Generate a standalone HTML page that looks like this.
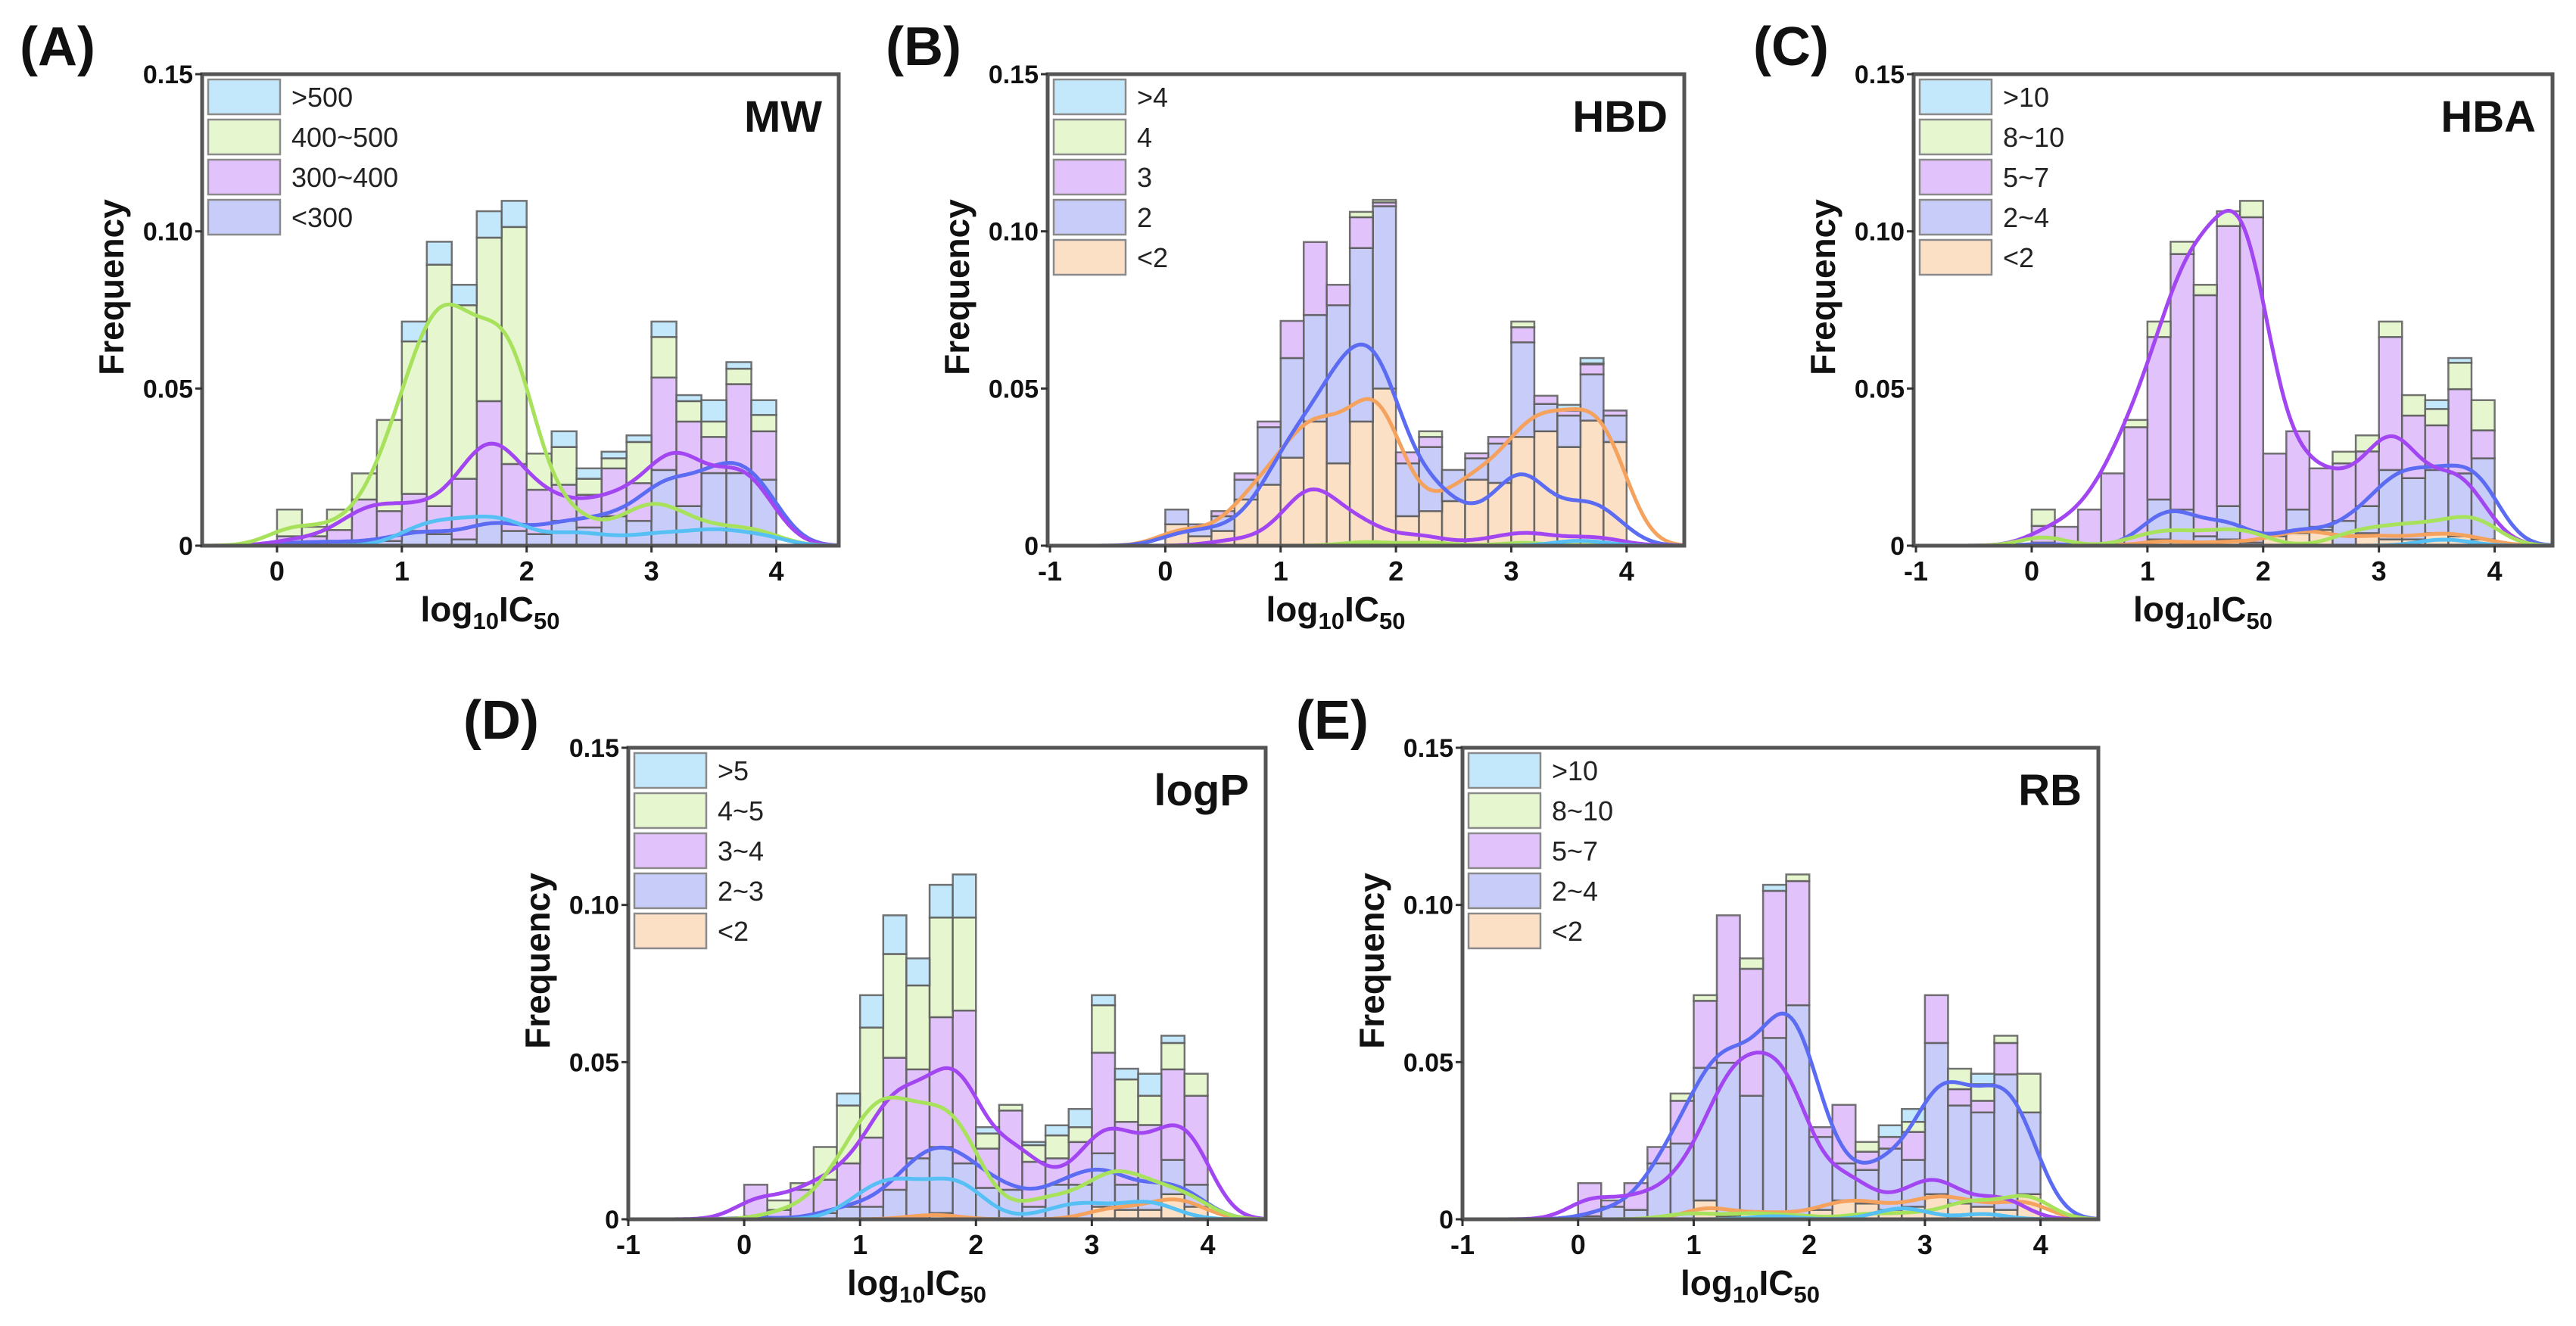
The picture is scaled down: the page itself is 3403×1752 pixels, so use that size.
<!DOCTYPE html>
<html><head><meta charset="utf-8"><style>
html,body{margin:0;padding:0;background:#fff}
svg{display:block;font-family:"Liberation Sans",Arial,sans-serif}
</style></head><body>
<svg id="fig" width="3403" height="1752" viewBox="0 0 3403 1752" xmlns="http://www.w3.org/2000/svg"></svg>
<script>
// Shared bins (log10 IC50), bin width 0.2
const binStarts = [0,0.2,0.4,0.6,0.8,1.0,1.2,1.4,1.6,1.8,2.0,2.2,2.4,2.6,2.8,3.0,3.2,3.4,3.6,3.8];
const yTicks = [0,0.05,0.10,0.15];
const yTickLabels = ["0","0.05","0.10","0.15"];
const xTicksA = [0,1,2,3,4];
const xTicksOther = [-1,0,1,2,3,4];

// Cumulative stack tops (bottom layer first)
// Panel A: MW  (<300, 300~400, 400~500, >500)
const mwLabels = ["<300","300~400","400~500",">500"];
const mwStack = [
 [.001,.001,.001,.001,.0015,.0047,.0037,.002,.009,.0047,.0037,.0079,.0058,.0094,.0079,.0241,.0126,.0231,.0231,.021],
 [.003,.003,.005,.0147,.011,.0165,.0126,.0213,.046,.026,.0178,.0194,.0162,.0246,.0199,.0535,.0395,.0346,.0514,.0364],
 [.0115,.006,.0115,.023,.040,.065,.0894,.0765,.098,.1014,.0293,.0314,.0213,.0278,.033,.0664,.046,.0395,.0563,.0416],
 [.0115,.006,.0115,.023,.040,.0713,.0967,.083,.1064,.1097,.0293,.0364,.0246,.0299,.0351,.0713,.0479,.0463,.0584,.0463]
];
// Panel B: HBD (<2, 2, 3, 4, >4)
const hbdLabels = ["<2","2","3","4",">4"];
const hbdStack = [
 [.0068,.003,.0047,.0147,.0194,.028,.0395,.0262,.0395,.05,.0094,.011,.0142,.021,.02,.0346,.0364,.0314,.0398,.033],
 [.0115,.0068,.0094,.021,.0377,.0597,.0734,.0765,.0947,.108,.0262,.0314,.0241,.0278,.0325,.0647,.0451,.0414,.0545,.0414],
 [.0115,.0068,.011,.023,.0395,.0715,.0966,.083,.1045,.1092,.0297,.0346,.0241,.0294,.0346,.0695,.0477,.043,.0577,.043],
 [.0115,.0068,.011,.023,.0395,.0715,.0966,.083,.1062,.110,.0297,.0364,.0241,.0294,.0346,.0713,.0477,.043,.058,.043],
 [.0115,.0068,.011,.023,.0395,.0715,.0966,.083,.1062,.110,.0297,.0364,.0241,.0294,.0346,.0713,.0477,.0448,.0597,.043]
];
// Panel C: HBA (<2, 2~4, 5~7, 8~10, >10)
const hbaLabels = ["<2","2~4","5~7","8~10",">10"];
const hbaStack = [
 [0,0,0,0,0,.002,.001,0,.002,0,.003,.004,.005,0,.004,.002,.002,.004,.003,.002],
 [.001,0,0,0,0,.0147,.0115,.003,.0126,.001,.004,.0115,.006,.0079,.0126,.0241,.0215,.0241,.023,.0278],
 [.0063,.006,.0115,.023,.0377,.0664,.0928,.0797,.1017,.1045,.0293,.0364,.0246,.0262,.030,.0664,.0414,.0383,.0498,.0367],
 [.0115,.006,.0115,.023,.040,.0713,.0967,.083,.1064,.1097,.0293,.0364,.0246,.0299,.0351,.0713,.0479,.0435,.0582,.0463],
 [.0115,.006,.0115,.023,.040,.0713,.0967,.083,.1064,.1097,.0293,.0364,.0246,.0299,.0351,.0713,.0479,.0463,.0597,.0463]
];
// Panel D: logP (<2, 2~3, 3~4, 4~5, >5)
const logpLabels = ["<2","2~3","3~4","4~5",">5"];
const logpStack = [
 [0,0,0,0,0,0,0,.001,.002,0,0,0,0,0,0,.004,.003,.003,.008,.004],
 [.001,0,0,.002,.004,.004,.0094,.0194,.023,.0178,.01,.0094,.004,.011,.011,.021,.011,.012,.0189,.011],
 [.011,.003,.0094,.0126,.0178,.026,.0514,.0477,.0643,.0664,.0225,.0346,.0183,.0194,.0246,.053,.031,.03,.0477,.0393],
 [.011,.006,.0115,.023,.0362,.061,.0844,.0744,.096,.096,.0273,.0364,.0236,.0267,.0293,.0681,.0445,.0393,.0561,.0463],
 [.011,.006,.0115,.023,.040,.0713,.0967,.083,.1064,.1097,.0293,.0364,.0246,.0299,.0351,.0713,.0479,.0463,.0584,.0463]
];
// Panel E: RB (<2, 2~4, 5~7, 8~10, >10)
const rbLabels = ["<2","2~4","5~7","8~10",">10"];
const rbStack = [
 [0,0,0,0,0,.006,.001,.002,.002,.001,.003,.006,.005,.003,.004,.008,.005,.004,.003,.008],
 [.001,.004,.003,.0178,.0241,.0482,.0498,.0393,.0577,.0681,.0262,.0178,.0157,.0225,.0189,.0561,.0362,.034,.0461,.034],
 [.0115,.006,.0115,.023,.0377,.0695,.0967,.0797,.1045,.1076,.0293,.0364,.0215,.0262,.0278,.0713,.0414,.0377,.0561,.034],
 [.0115,.006,.0115,.023,.040,.0713,.0967,.083,.1045,.1097,.0293,.0364,.0246,.0262,.031,.0713,.0479,.043,.0584,.0463],
 [.0115,.006,.0115,.023,.040,.0713,.0967,.083,.1064,.1097,.0293,.0364,.0246,.0299,.0351,.0713,.0479,.0463,.0584,.0463]
];

const COL = {
  orange:{fill:"#fbe0c6",line:"#f4a25e"},
  blue:{fill:"#c7ccf8",line:"#5b6cf2"},
  purple:{fill:"#e1c2fa",line:"#a246f2"},
  green:{fill:"#e6f6cf",line:"#a8e25c"},
  cyan:{fill:"#c3e7fb",line:"#56c0f5"}
};
const NS = "http://www.w3.org/2000/svg";
const svg = document.getElementById('fig');
function mk(tag, attrs, parent){
  const e = document.createElementNS(NS, tag);
  for (const k in attrs) e.setAttribute(k, attrs[k]);
  (parent||svg).appendChild(e); return e;
}

function drawPanel(p){
  const g = mk('g', {});
  
  
  const L=p.left, R=p.right, T=p.top, B=p.bottom;
  const xs = v => L + (v - p.x0) / (p.x1 - p.x0) * (R - L);
  const ys = v => B - v / 0.15 * (B - T);
  const binW = 0.2;
  const bars = mk('g', {}, g);
  
  
  for (let li = 0; li < p.stack.length; li++){
    const c = COL[p.colors[li]];
    for (let i = 0; i < binStarts.length; i++){
      const top = p.stack[li][i];
      const bot = li === 0 ? 0 : p.stack[li-1][i];
      if (top - bot <= 0.0002) continue;
      const r = mk('rect', {x: xs(binStarts[i]), y: ys(top), width: xs(binStarts[i]+binW) - xs(binStarts[i]), height: ys(bot) - ys(top), fill: c.fill, stroke: '#5a5a5a', 'stroke-width': 2.5, 'stroke-opacity': 0.85}, bars);
      
      
    }
  }
  // KDE-like curves from layer frequencies
  const bw = 0.2, gain = 1.25, norm = gain * binW / (bw * Math.sqrt(2 * Math.PI));
  for (let li = 0; li < p.stack.length; li++){
    const layer = binStarts.map((s, i) => p.stack[li][i] - (li === 0 ? 0 : p.stack[li-1][i]));
    let d = '';
    for (let k = 0; k <= 240; k++){
      const x = p.x0 + (p.x1 - p.x0) * k / 240;
      let y = 0;
      for (let i = 0; i < binStarts.length; i++){
        const c = binStarts[i] + binW / 2;
        y += layer[i] * Math.exp(-((x - c) ** 2) / (2 * bw * bw)) * norm;
      }
      d += (k ? 'L' : 'M') + xs(x).toFixed(1) + ',' + ys(y).toFixed(1);
    }
    const path = mk('path', {d: d, fill: 'none', stroke: COL[p.colors[li]].line, 'stroke-width': 5}, g);
    
    
  }
  const fr = mk('rect', {x: L, y: T, width: R - L, height: B - T, fill: 'none', stroke: '#555', 'stroke-width': 5}, g);
  
  
  yTicks.forEach((v, i) => {
    mk('line', {x1: L - 9, x2: L, y1: ys(v), y2: ys(v), stroke: '#333', 'stroke-width': 3}, g);
    const t = mk('text', {x: L - 12, y: ys(v) + 12, 'text-anchor': 'end', 'font-size': 34, 'font-weight': 'bold', fill: '#111'}, g);
    
    
    t.textContent = yTickLabels[i];
  });
  p.xticks.forEach(v => {
    mk('line', {x1: xs(v), x2: xs(v), y1: B, y2: B + 9, stroke: '#333', 'stroke-width': 3}, g);
    const t = mk('text', {x: xs(v), y: B + 46, 'text-anchor': 'middle', 'font-size': 36, 'font-weight': 'bold', fill: '#111'}, g);
    
    
    t.textContent = String(v);
  });
  const yt = mk('text', {x: 0, y: 0, transform: `translate(${L - 104},${(T + B) / 2 - 30}) rotate(-90)`, 'text-anchor': 'middle', 'font-size': 46, 'font-weight': 'bold', fill: '#111'}, g);
  
  
  yt.textContent = 'Frequency';
  const xt = mk('text', {x: (L + R) / 2 - 40, y: B + 100, 'text-anchor': 'middle', 'font-size': 46, 'font-weight': 'bold', fill: '#111'}, g);
  
  
  xt.innerHTML = 'log<tspan font-size="31" dy="10">10</tspan><tspan dy="-10">IC</tspan><tspan font-size="31" dy="10">50</tspan>';
  const pl = mk('text', {x: p.letterX, y: T - 12, 'font-size': 72, 'font-weight': 'bold', fill: '#111'}, g);
  
  
  pl.textContent = '(' + p.id + ')';
  const ti = mk('text', {x: R - 22, y: T + 76, 'text-anchor': 'end', 'font-size': 58, 'font-weight': 'bold', fill: '#111'}, g);
  
  
  ti.textContent = p.title;
  const lg = mk('g', {}, g);
  
  
  const n = p.labels.length;
  for (let k = 0; k < n; k++){
    const li = n - 1 - k;
    const yy = T + 7 + k * 53;
    const e = mk('g', {}, lg);
    
    
    mk('rect', {x: L + 8, y: yy, width: 95, height: 46, fill: COL[p.colors[li]].fill, stroke: '#8a8a8a', 'stroke-width': 2.5}, e);
    const t = mk('text', {x: L + 118, y: yy + 36, 'font-size': 36, fill: '#222'}, e);
    t.textContent = p.labels[li];
  }
}

const panels = [
  {id:'A', title:'MW', left:267, right:1108, top:98, bottom:721, x0:-0.6, x1:4.5, xticks:xTicksA, stack:mwStack, labels:mwLabels, colors:['blue','purple','green','cyan'], letterX:26},
  {id:'B', title:'HBD', left:1384, right:2225, top:98, bottom:721, x0:-1.02, x1:4.5, xticks:xTicksOther, stack:hbdStack, labels:hbdLabels, colors:['orange','blue','purple','green','cyan'], letterX:1170},
  {id:'C', title:'HBA', left:2528, right:3372, top:98, bottom:721, x0:-1.02, x1:4.5, xticks:xTicksOther, stack:hbaStack, labels:hbaLabels, colors:['orange','blue','purple','green','cyan'], letterX:2316},
  {id:'D', title:'logP', left:830, right:1672, top:988, bottom:1611, x0:-1, x1:4.5, xticks:xTicksOther, stack:logpStack, labels:logpLabels, colors:['orange','blue','purple','green','cyan'], letterX:612},
  {id:'E', title:'RB', left:1932, right:2772, top:988, bottom:1611, x0:-1, x1:4.5, xticks:xTicksOther, stack:rbStack, labels:rbLabels, colors:['orange','blue','purple','green','cyan'], letterX:1712}
];
panels.forEach(drawPanel);
</script>
</body></html>
